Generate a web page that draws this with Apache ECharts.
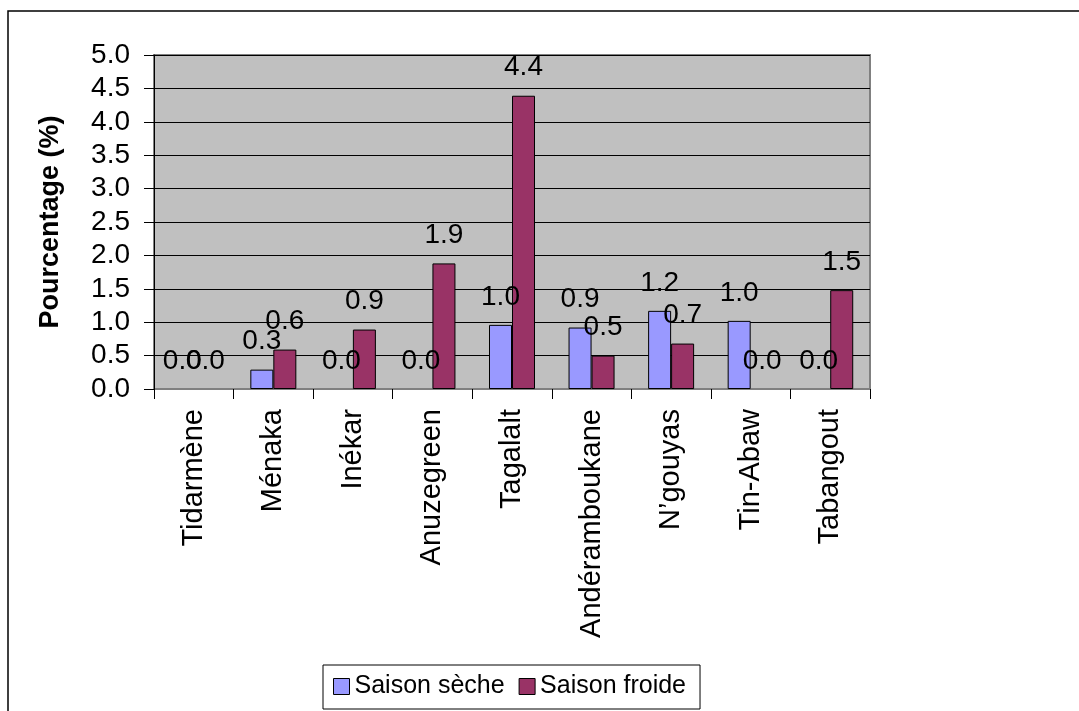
<!DOCTYPE html>
<html>
<head>
<meta charset="utf-8">
<title>Pourcentage par site</title>
<script src="https://cdn.jsdelivr.net/npm/echarts@6/dist/echarts.min.js"></script>
<style>
  html, body { margin: 0; padding: 0; background: #fff; }
  #chart { width: 1079px; height: 711px; }
</style>
</head>
<body>
<div id="chart"></div>
<script>
  // sites (axe des x)
  var categories = ['Tidarmène', 'Ménaka', 'Inékar', 'Anuzegreen', 'Tagalalt',
    'Andéramboukane', 'N’gouyas', 'Tin-Abaw', 'Tabangout']
  var seasonNames = ['Saison sèche', 'Saison froide']
  // valeurs (%)
  var saisonSeche = [0.0, 0.29, 0.0, 0.0, 0.96, 0.92, 1.17, 1.02, 0.0]
  var saisonFroide = [0.0, 0.59, 0.89, 1.88, 4.39, 0.5, 0.68, 0.0, 1.48]
  var yTicks = [0, 0.5, 1, 1.5, 2, 2.5, 3, 3.5, 4, 4.5, 5]

  var font = '"Liberation Sans", Arial, sans-serif'
  var colors = ['#9999FF', '#993366']

  var chart = echarts.init(document.getElementById('chart'))

  function barSeries(name, data, color) {
    return {
      name: name,
      type: 'bar',
      // pas de bordure sur les barres nulles
      data: data.map(function(v) {
        return v === 0 ? { value: v, itemStyle: { borderWidth: 0 } } : v
      }),
      barWidth: 23,
      barGap: '0%',
      itemStyle: { color: color, borderColor: '#000', borderWidth: 1 },
      label: {
        show: true,
        position: 'top',
        distance: 14,
        color: '#000',
        fontFamily: font,
        fontSize: 28,
        formatter: function(p) { return p.value.toFixed(1) }
      },
      animation: false
    }
  }

  chart.setOption({
    animation: false,
    color: colors,
    graphic: [{
      type: 'rect',
      shape: { x: 8, y: 11, width: 1200, height: 1000 },
      style: { fill: null, stroke: '#000', lineWidth: 1.5 },
      silent: true
    }],
    grid: {
      left: 154,
      top: 55,
      right: 209,
      bottom: 322,
      show: true,
      backgroundColor: '#C0C0C0',
      borderColor: '#808080',
      borderWidth: 2
    },
    legend: {
      data: seasonNames,
      left: 323,
      top: 665,
      orient: 'horizontal',
      icon: 'rect',
      itemWidth: 16,
      itemHeight: 16,
      itemGap: 14,
      padding: [9, 14, 10, 10],
      borderColor: '#000',
      borderWidth: 1,
      itemStyle: { borderColor: '#000', borderWidth: 1 },
      textStyle: { fontFamily: font, fontSize: 25, color: '#000' }
    },
    xAxis: {
      type: 'category',
      data: categories,
      axisLine: { lineStyle: { color: '#808080', width: 1 } },
      axisTick: { show: true, length: 10, inside: false, lineStyle: { color: '#000' } },
      axisLabel: {
        rotate: 90,
        margin: 20,
        color: '#000',
        fontFamily: font,
        fontSize: 29
      }
    },
    yAxis: {
      type: 'value',
      min: yTicks[0],
      max: yTicks[yTicks.length - 1],
      interval: 0.5,
      name: 'Pourcentage (%)',
      nameLocation: 'middle',
      nameRotate: 90,
      nameGap: 90,
      nameTextStyle: { fontFamily: font, fontSize: 27, fontWeight: 'bold', color: '#000' },
      axisLine: { show: true, lineStyle: { color: '#000', width: 1 } },
      axisTick: { show: true, length: 10, lineStyle: { color: '#000' } },
      splitLine: { show: true, lineStyle: { color: '#000', width: 1 } },
      axisLabel: {
        margin: 24,
        color: '#000',
        fontFamily: font,
        fontSize: 28,
        formatter: function(v) { return v.toFixed(1) }
      }
    },
    series: [
      barSeries(seasonNames[0], saisonSeche, colors[0]),
      barSeries(seasonNames[1], saisonFroide, colors[1])
    ]
  })
</script>
</body>
</html>
